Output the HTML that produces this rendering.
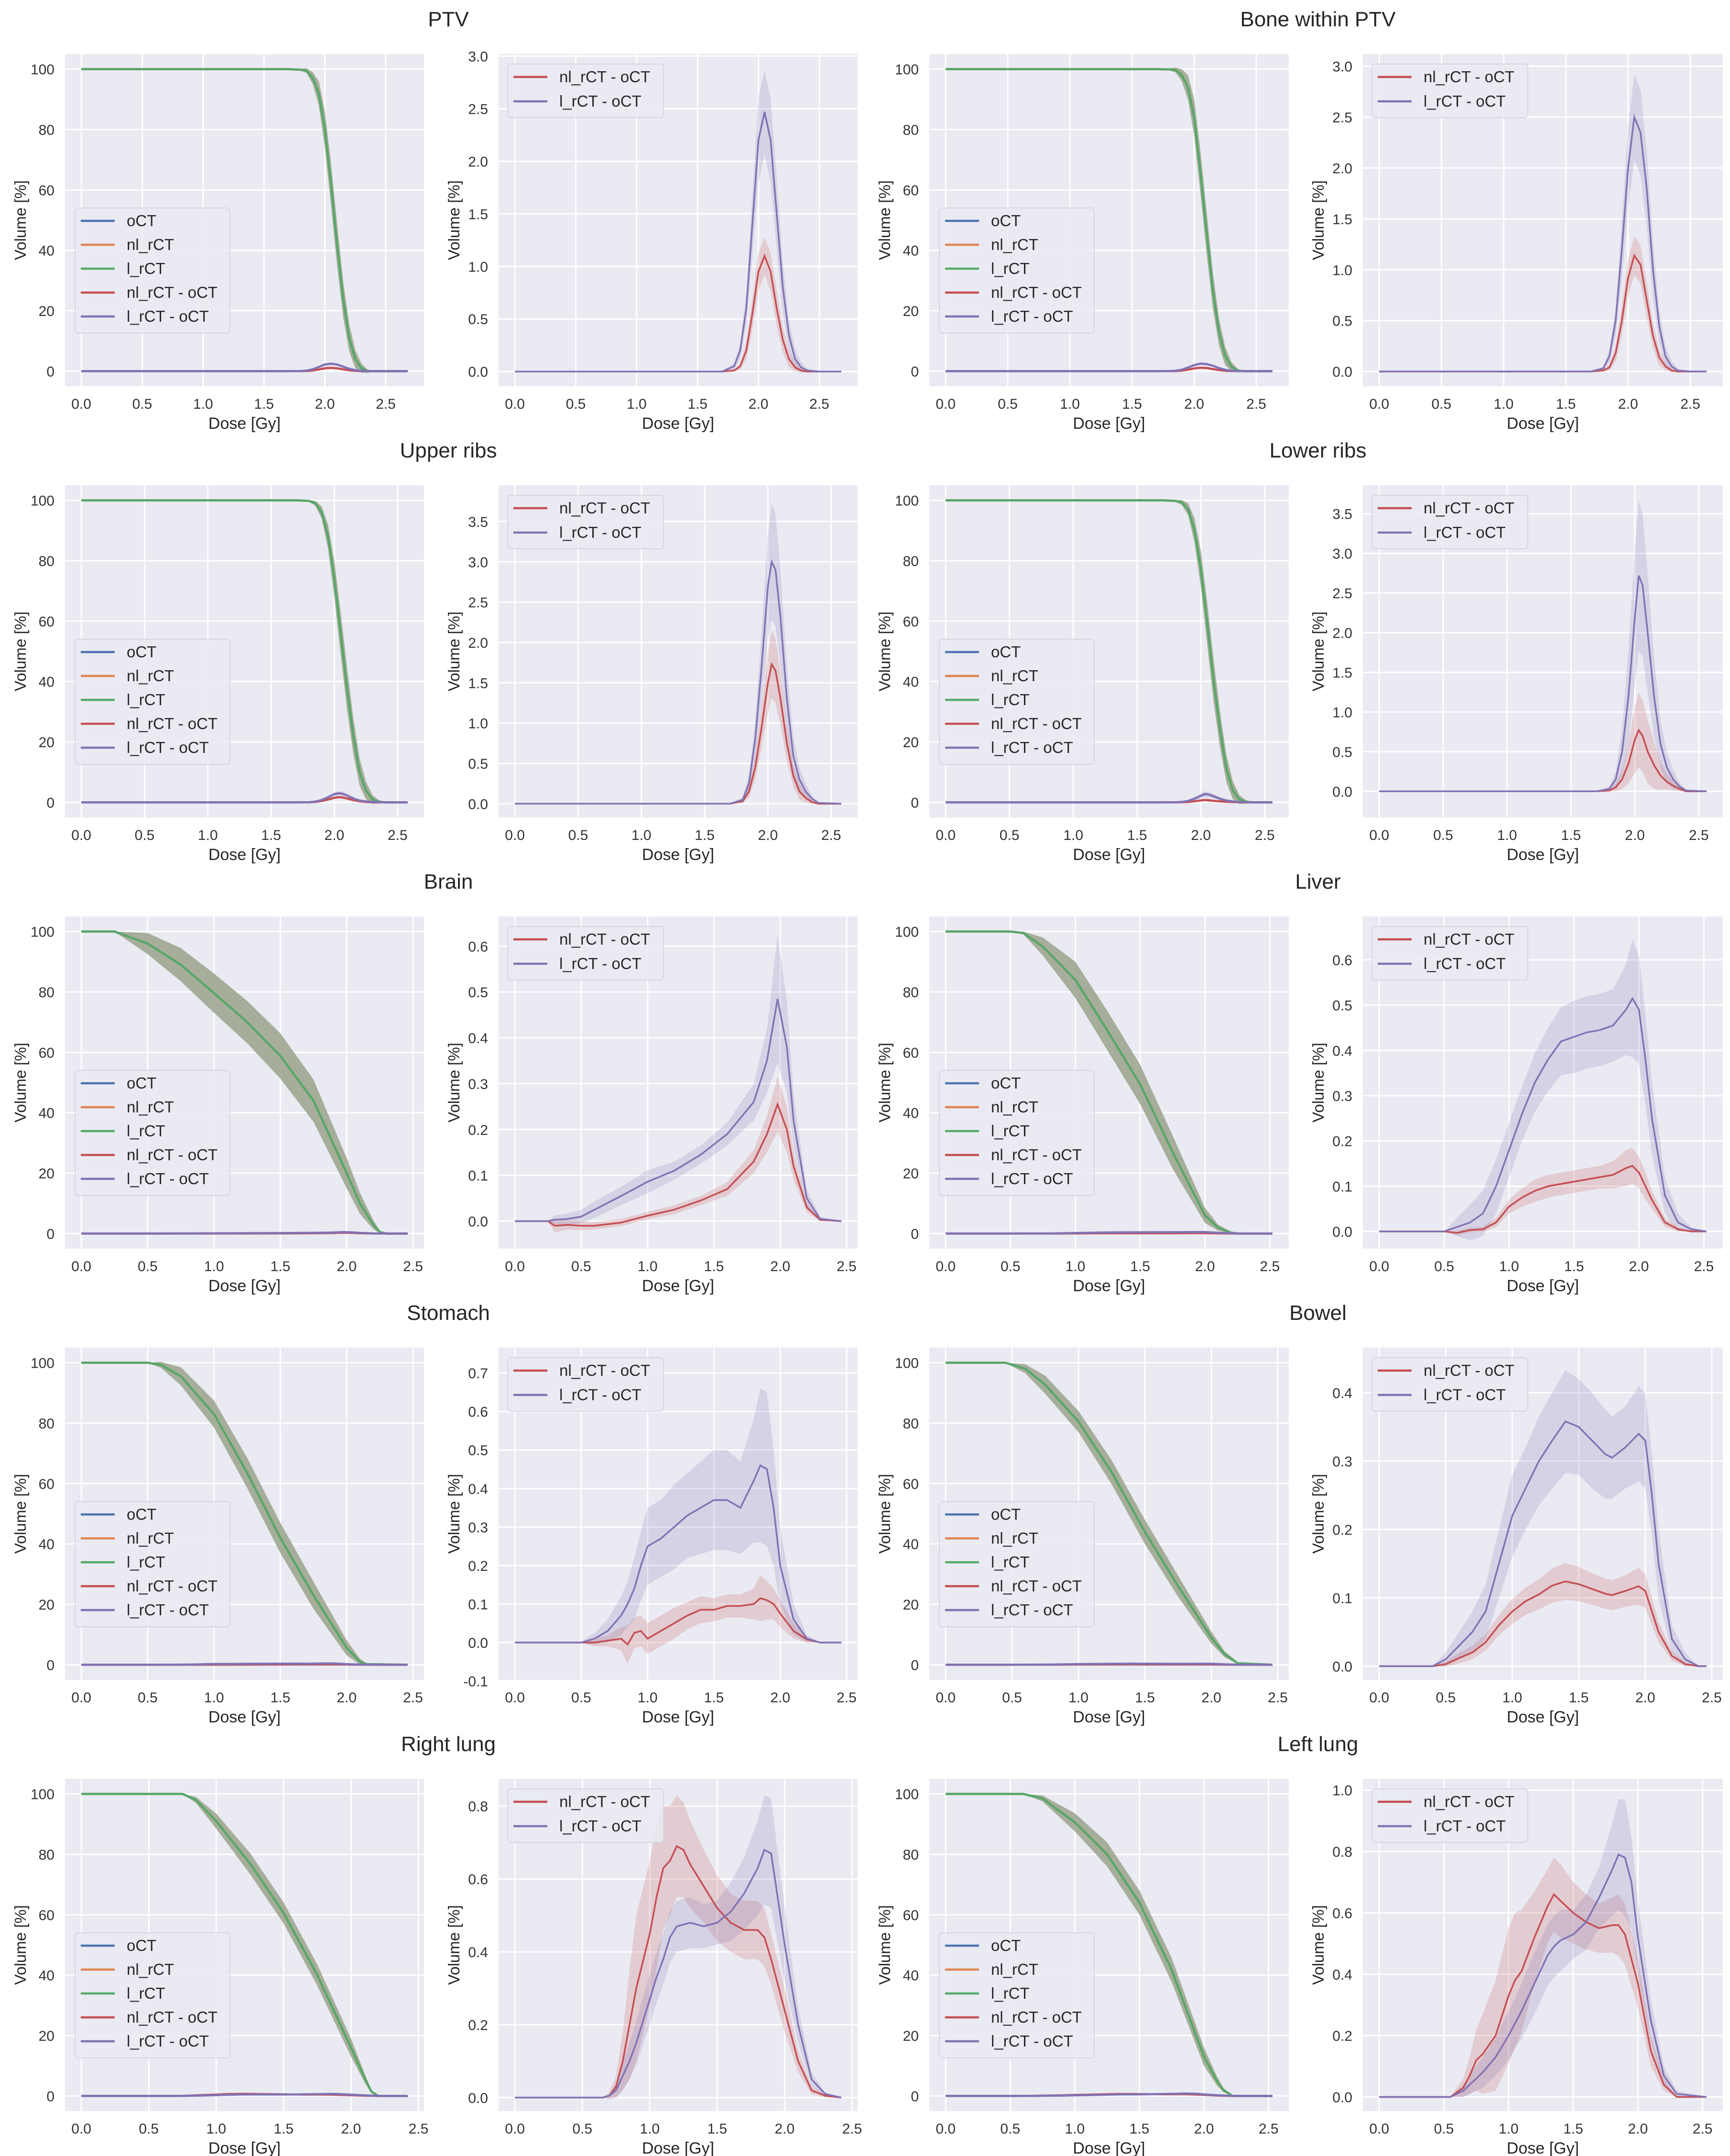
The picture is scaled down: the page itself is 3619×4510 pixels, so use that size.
<!DOCTYPE html>
<html><head><meta charset="utf-8"><style>
html,body{margin:0;padding:0;background:#fff;}
svg{display:block;font-family:"Liberation Sans",Arial,sans-serif;}
</style></head><body>
<svg id="fig" width="3619" height="4510" viewBox="0 0 3619 4510" xmlns="http://www.w3.org/2000/svg"></svg>
<script>
// ===== PTV =====
const ptvDvhDose=[0,1.7,1.8,1.85,1.9,1.95,2.0,2.05,2.1,2.15,2.2,2.25,2.3,2.35,2.4,2.68];
const ptvDvhMean=[100,100,99.8,99.5,97,92,80,62,42,24,11,4,1,0,0,0];
const ptvDvhSpread=[0,0,0.3,0.8,2,4,6,7,7,6,4.5,3,1.5,0.6,0,0];
const ptvDiffDose=[0,1.7,1.8,1.85,1.9,1.95,2.0,2.05,2.1,2.15,2.2,2.25,2.3,2.35,2.4,2.5,2.68];
const ptvL=[0,0,0.05,0.2,0.6,1.4,2.2,2.47,2.2,1.5,0.8,0.35,0.12,0.04,0.01,0,0];
const ptvLSpread=[0,0,0.03,0.07,0.15,0.3,0.4,0.4,0.4,0.35,0.25,0.15,0.1,0.05,0.02,0,0];
const ptvNl=[0,0,0.01,0.05,0.2,0.55,0.95,1.1,0.95,0.6,0.3,0.12,0.04,0.01,0,0,0];
const ptvNlSpread=[0,0,0.01,0.03,0.08,0.15,0.18,0.18,0.18,0.17,0.12,0.08,0.04,0.02,0,0,0];
const ptvTicks=[0,0.5,1.0,1.5,2.0,2.5,3.0];
// ===== Bone within PTV =====
const boneDvhDose=[0,1.7,1.8,1.85,1.9,1.95,2.0,2.05,2.1,2.15,2.2,2.25,2.3,2.35,2.4,2.63];
const boneDvhMean=[100,100,99.9,99.7,98,94,84,66,46,27,13,5,1.5,0.2,0,0];
const boneDvhSpread=[0,0,0.3,0.8,2,4,6,7,7,6,4.5,3,1.5,0.6,0,0];
const boneDiffDose=[0,1.7,1.8,1.85,1.9,1.95,2.0,2.05,2.1,2.15,2.2,2.25,2.3,2.35,2.4,2.5,2.63];
const boneL=[0,0,0.03,0.15,0.5,1.2,2.0,2.5,2.35,1.8,1.0,0.45,0.15,0.05,0.01,0,0];
const boneLSpread=[0,0,0.02,0.06,0.15,0.3,0.4,0.42,0.42,0.38,0.28,0.17,0.1,0.05,0.02,0,0];
const boneNl=[0,0,0.01,0.04,0.18,0.5,0.92,1.14,1.05,0.7,0.35,0.14,0.05,0.01,0,0,0];
const boneNlSpread=[0,0,0.01,0.03,0.08,0.15,0.18,0.19,0.19,0.17,0.12,0.08,0.04,0.02,0,0,0];
const boneTicks=[0,0.5,1.0,1.5,2.0,2.5,3.0];
// ===== Upper ribs =====
const uribDvhDose=[0,1.7,1.8,1.85,1.9,1.95,2.0,2.05,2.1,2.15,2.2,2.25,2.3,2.35,2.4,2.58];
const uribDvhMean=[100,100,99.8,99,96,88,74,56,38,22,10,4,1,0.2,0,0];
const uribDvhSpread=[0,0,0.3,0.8,2,4,6,7,7,6,4.5,3,1.5,0.6,0,0];
const uribDiffDose=[0,1.7,1.8,1.85,1.9,1.95,2.0,2.03,2.06,2.1,2.15,2.2,2.25,2.3,2.35,2.4,2.58];
const uribL=[0,0,0.05,0.25,0.8,1.7,2.7,3.0,2.9,2.3,1.3,0.6,0.3,0.15,0.06,0.01,0];
const uribLSpread=[0,0,0.03,0.1,0.25,0.45,0.65,0.72,0.7,0.6,0.4,0.25,0.15,0.1,0.04,0.01,0];
const uribNl=[0,0,0.03,0.15,0.45,0.95,1.5,1.73,1.65,1.3,0.75,0.35,0.15,0.07,0.02,0,0];
const uribNlSpread=[0,0,0.02,0.07,0.15,0.25,0.38,0.42,0.4,0.33,0.22,0.14,0.1,0.06,0.02,0,0];
const uribTicks=[0,0.5,1.0,1.5,2.0,2.5,3.0,3.5];
// ===== Lower ribs =====
const lribDvhDose=[0,1.7,1.8,1.85,1.9,1.95,2.0,2.05,2.1,2.15,2.2,2.25,2.3,2.35,2.4,2.56];
const lribDvhMean=[100,100,99.8,99.3,97,90,77,59,40,24,11,4,1,0.2,0,0];
const lribDvhSpread=[0,0,0.3,0.8,2,4,6,7,7,6,4.5,3,1.5,0.6,0,0];
const lribDiffDose=[0,1.7,1.8,1.85,1.9,1.95,2.0,2.03,2.06,2.1,2.15,2.2,2.25,2.3,2.35,2.4,2.56];
const lribL=[0,0,0.03,0.15,0.5,1.2,2.2,2.72,2.6,2.0,1.2,0.6,0.3,0.15,0.06,0.01,0];
const lribLSpread=[0,0,0.03,0.1,0.3,0.6,0.85,0.95,0.9,0.75,0.5,0.3,0.2,0.12,0.05,0.01,0];
const lribNl=[0,0,0.01,0.05,0.15,0.35,0.65,0.77,0.7,0.5,0.33,0.2,0.12,0.07,0.03,0,0];
const lribNlSpread=[0,0,0.01,0.05,0.12,0.25,0.42,0.47,0.45,0.4,0.3,0.18,0.1,0.06,0.03,0,0];
const lribTicks=[0,0.5,1.0,1.5,2.0,2.5,3.0,3.5];
// ===== Brain =====
const brainDvhDose=[0,0.25,0.5,0.75,1.0,1.25,1.5,1.75,2.0,2.1,2.2,2.25,2.3,2.46];
const brainDvhMean=[100,100,96,89,79.6,70,58.8,44,20,10,3,0.5,0,0];
const brainDvhSpread=[0,0,3.5,5.5,6.5,7,7.5,7,5,3.5,1.5,0.5,0,0];
const brainDiffDose=[0,0.25,0.3,0.4,0.5,0.6,0.8,1.0,1.2,1.4,1.6,1.8,1.9,1.98,2.05,2.1,2.2,2.3,2.46];
const brainL=[0,0,0.003,0.005,0.01,0.025,0.055,0.086,0.11,0.145,0.19,0.26,0.35,0.485,0.38,0.22,0.05,0.005,0];
const brainLSpread=[0,0,0.01,0.012,0.015,0.018,0.02,0.025,0.02,0.02,0.025,0.04,0.07,0.14,0.1,0.06,0.02,0.005,0];
const brainNl=[0,0,-0.01,-0.008,-0.01,-0.01,-0.003,0.012,0.025,0.045,0.07,0.13,0.19,0.255,0.2,0.12,0.03,0.003,0];
const brainNlSpread=[0,0,0.015,0.01,0.01,0.008,0.008,0.008,0.01,0.01,0.015,0.025,0.04,0.06,0.05,0.03,0.01,0.003,0];
const brainTicks=[0,0.1,0.2,0.3,0.4,0.5,0.6];
// ===== Liver =====
const liverDvhDose=[0,0.5,0.6,0.75,1.0,1.25,1.5,1.75,2.0,2.1,2.2,2.25,2.52];
const liverDvhMean=[100,100,99.5,95,84,67,49.4,27,6,2,0.3,0,0];
const liverDvhSpread=[0,0,0.5,3,6,6.5,6.5,5.5,2.5,1,0.3,0,0];
const liverDiffDose=[0,0.5,0.6,0.7,0.8,0.9,1.0,1.1,1.2,1.3,1.4,1.5,1.6,1.7,1.8,1.9,1.95,2.0,2.05,2.1,2.2,2.3,2.4,2.52];
const liverL=[0,0,0.01,0.02,0.04,0.1,0.18,0.26,0.33,0.38,0.42,0.43,0.44,0.445,0.455,0.49,0.515,0.49,0.38,0.25,0.08,0.02,0.005,0];
const liverLSpread=[0,0,0.02,0.04,0.05,0.06,0.06,0.06,0.065,0.07,0.075,0.08,0.08,0.08,0.08,0.1,0.13,0.12,0.1,0.08,0.04,0.02,0.005,0];
const liverNl=[0,0,-0.003,0.003,0.005,0.02,0.055,0.075,0.09,0.1,0.105,0.11,0.115,0.12,0.125,0.14,0.145,0.13,0.1,0.07,0.02,0.005,0,0];
const liverNlSpread=[0,0,0.005,0.005,0.006,0.01,0.015,0.02,0.025,0.025,0.025,0.025,0.025,0.025,0.03,0.04,0.04,0.035,0.03,0.02,0.01,0.005,0,0];
const liverTicks=[0,0.1,0.2,0.3,0.4,0.5,0.6];
// ===== Stomach =====
const stomDvhDose=[0,0.5,0.6,0.75,1.0,1.25,1.5,1.75,2.0,2.1,2.15,2.46];
const stomDvhMean=[100,100,99.3,95.5,83,63.5,42,23,5.6,1,0.2,0];
const stomDvhSpread=[0,0,1,3,4.5,5,5,4.5,2.5,1,0.3,0];
const stomDiffDose=[0,0.5,0.55,0.6,0.7,0.8,0.85,0.9,0.95,1.0,1.1,1.2,1.3,1.4,1.5,1.6,1.7,1.8,1.85,1.9,1.95,2.0,2.1,2.2,2.3,2.46];
const stomL=[0,0,0.005,0.01,0.03,0.07,0.1,0.14,0.2,0.25,0.27,0.3,0.33,0.35,0.37,0.37,0.35,0.42,0.46,0.45,0.35,0.2,0.06,0.01,0,0];
const stomLSpread=[0,0,0.01,0.015,0.03,0.05,0.06,0.08,0.09,0.1,0.1,0.11,0.11,0.12,0.13,0.13,0.12,0.16,0.2,0.2,0.15,0.1,0.04,0.01,0,0];
const stomNl=[0,0,0,0,0.005,0.01,-0.005,0.025,0.03,0.01,0.03,0.05,0.07,0.085,0.085,0.095,0.095,0.1,0.115,0.11,0.1,0.075,0.03,0.008,0,0];
const stomNlSpread=[0,0,0.005,0.01,0.015,0.03,0.05,0.04,0.04,0.04,0.04,0.04,0.035,0.035,0.03,0.03,0.03,0.04,0.06,0.05,0.04,0.035,0.02,0.008,0,0];
const stomTicks=[-0.1,0,0.1,0.2,0.3,0.4,0.5,0.6,0.7];
// ===== Bowel =====
const bowelDvhDose=[0,0.45,0.6,0.75,1.0,1.25,1.5,1.75,2.0,2.1,2.2,2.46];
const bowelDvhMean=[100,100,98,92.7,80.5,63.7,44,26,9,3.5,0.5,0];
const bowelDvhSpread=[0,0,1.5,3,3.5,4,4,3.5,2,1,0.3,0];
const bowelDiffDose=[0,0.4,0.5,0.6,0.7,0.8,0.9,1.0,1.1,1.2,1.3,1.4,1.5,1.6,1.7,1.75,1.85,1.95,2.0,2.05,2.1,2.2,2.3,2.4,2.46];
const bowelL=[0,0,0.01,0.03,0.05,0.08,0.15,0.22,0.26,0.3,0.33,0.358,0.35,0.33,0.31,0.305,0.32,0.34,0.33,0.25,0.15,0.04,0.01,0,0];
const bowelLSpread=[0,0,0.01,0.02,0.03,0.04,0.05,0.06,0.06,0.065,0.07,0.075,0.07,0.07,0.065,0.06,0.06,0.07,0.07,0.06,0.05,0.02,0.01,0,0];
const bowelNl=[0,0,0.003,0.012,0.02,0.035,0.06,0.08,0.095,0.105,0.118,0.124,0.12,0.113,0.106,0.104,0.11,0.117,0.11,0.08,0.05,0.015,0.003,0,0];
const bowelNlSpread=[0,0,0.004,0.008,0.01,0.012,0.015,0.018,0.02,0.022,0.025,0.027,0.025,0.023,0.022,0.022,0.023,0.027,0.025,0.02,0.015,0.007,0.003,0,0];
const bowelTicks=[0,0.1,0.2,0.3,0.4];
// ===== Right lung =====
const rlungDvhDose=[0,0.75,0.85,1.0,1.25,1.5,1.75,2.0,2.1,2.15,2.2,2.42];
const rlungDvhMean=[100,100,98,91,77,60.6,40,16,6,1.5,0,0];
const rlungDvhSpread=[0,0,1,2.5,3.5,3.5,3.5,3,1.5,0.5,0,0];
const rlungDiffDose=[0,0.65,0.7,0.75,0.8,0.85,0.9,1.0,1.05,1.1,1.15,1.2,1.25,1.3,1.4,1.5,1.6,1.7,1.8,1.85,1.9,2.0,2.1,2.2,2.3,2.42];
const rlungNl=[0,0,0.005,0.03,0.1,0.2,0.3,0.45,0.55,0.63,0.65,0.69,0.68,0.64,0.58,0.52,0.48,0.46,0.46,0.44,0.38,0.24,0.1,0.02,0.005,0];
const rlungNlSpread=[0,0,0.01,0.03,0.08,0.15,0.2,0.2,0.2,0.17,0.15,0.14,0.13,0.12,0.1,0.09,0.08,0.08,0.08,0.08,0.07,0.06,0.03,0.01,0.005,0];
const rlungL=[0,0,0.005,0.02,0.06,0.1,0.15,0.27,0.33,0.38,0.44,0.47,0.475,0.48,0.47,0.48,0.51,0.56,0.63,0.68,0.67,0.42,0.2,0.05,0.01,0];
const rlungLSpread=[0,0,0.005,0.02,0.04,0.05,0.06,0.07,0.07,0.07,0.07,0.07,0.07,0.07,0.06,0.06,0.08,0.1,0.13,0.15,0.15,0.1,0.05,0.02,0.005,0];
const rlungTicks=[0,0.2,0.4,0.6,0.8];
// ===== Left lung =====
const llungDvhDose=[0,0.6,0.75,1.0,1.25,1.5,1.75,2.0,2.1,2.15,2.22,2.53];
const llungDvhMean=[100,100,98.5,90.6,80,64,41.7,13,5,2,0,0];
const llungDvhSpread=[0,0,1,3,4,4,4,3,1.5,0.7,0,0];
const llungDiffDose=[0,0.55,0.65,0.7,0.75,0.8,0.9,1.0,1.05,1.1,1.2,1.3,1.35,1.4,1.5,1.6,1.7,1.8,1.85,1.9,1.95,2.0,2.1,2.2,2.3,2.53];
const llungNl=[0,0,0.03,0.07,0.12,0.14,0.2,0.33,0.38,0.41,0.52,0.62,0.66,0.64,0.6,0.57,0.55,0.56,0.56,0.53,0.45,0.37,0.15,0.04,0,0];
const llungNlSpread=[0,0,0.03,0.06,0.1,0.13,0.18,0.22,0.22,0.2,0.15,0.12,0.12,0.12,0.1,0.09,0.08,0.09,0.1,0.1,0.09,0.08,0.05,0.02,0,0];
const llungL=[0,0,0.02,0.04,0.06,0.08,0.13,0.2,0.24,0.28,0.37,0.46,0.49,0.51,0.53,0.57,0.65,0.74,0.79,0.78,0.7,0.52,0.25,0.07,0.01,0];
const llungLSpread=[0,0,0.02,0.03,0.04,0.05,0.06,0.08,0.08,0.09,0.1,0.1,0.1,0.1,0.08,0.09,0.1,0.15,0.18,0.19,0.15,0.12,0.07,0.03,0.01,0];
const llungTicks=[0,0.2,0.4,0.6,0.8,1.0];

const xTicks=[0,0.5,1.0,1.5,2.0,2.5];
const dvhTicks=[0,20,40,60,80,100];
const dvhLegend=["oCT","nl_rCT","l_rCT","nl_rCT - oCT","l_rCT - oCT"];
const diffLegend=["nl_rCT - oCT","l_rCT - oCT"];

const structures=[
 {key:"ptv",title:"PTV",row:0,side:0,dd:ptvDvhDose,dm:ptvDvhMean,ds:ptvDvhSpread,fd:ptvDiffDose,l:ptvL,ls:ptvLSpread,nl:ptvNl,nls:ptvNlSpread,ticks:ptvTicks,ylim:[-0.14,3.02]},
 {key:"bone-within-ptv",title:"Bone within PTV",row:0,side:1,dd:boneDvhDose,dm:boneDvhMean,ds:boneDvhSpread,fd:boneDiffDose,l:boneL,ls:boneLSpread,nl:boneNl,nls:boneNlSpread,ticks:boneTicks,ylim:[-0.145,3.12]},
 {key:"upper-ribs",title:"Upper ribs",row:1,side:0,dd:uribDvhDose,dm:uribDvhMean,ds:uribDvhSpread,fd:uribDiffDose,l:uribL,ls:uribLSpread,nl:uribNl,nls:uribNlSpread,ticks:uribTicks,ylim:[-0.17,3.95]},
 {key:"lower-ribs",title:"Lower ribs",row:1,side:1,dd:lribDvhDose,dm:lribDvhMean,ds:lribDvhSpread,fd:lribDiffDose,l:lribL,ls:lribLSpread,nl:lribNl,nls:lribNlSpread,ticks:lribTicks,ylim:[-0.33,3.86]},
 {key:"brain",title:"Brain",row:2,side:0,dd:brainDvhDose,dm:brainDvhMean,ds:brainDvhSpread,fd:brainDiffDose,l:brainL,ls:brainLSpread,nl:brainNl,nls:brainNlSpread,ticks:brainTicks,ylim:[-0.06,0.665]},
 {key:"liver",title:"Liver",row:2,side:1,dd:liverDvhDose,dm:liverDvhMean,ds:liverDvhSpread,fd:liverDiffDose,l:liverL,ls:liverLSpread,nl:liverNl,nls:liverNlSpread,ticks:liverTicks,ylim:[-0.038,0.696]},
 {key:"stomach",title:"Stomach",row:3,side:0,dd:stomDvhDose,dm:stomDvhMean,ds:stomDvhSpread,fd:stomDiffDose,l:stomL,ls:stomLSpread,nl:stomNl,nls:stomNlSpread,ticks:stomTicks,ylim:[-0.097,0.766]},
 {key:"bowel",title:"Bowel",row:3,side:1,dd:bowelDvhDose,dm:bowelDvhMean,ds:bowelDvhSpread,fd:bowelDiffDose,l:bowelL,ls:bowelLSpread,nl:bowelNl,nls:bowelNlSpread,ticks:bowelTicks,ylim:[-0.02,0.466]},
 {key:"right-lung",title:"Right lung",row:4,side:0,dd:rlungDvhDose,dm:rlungDvhMean,ds:rlungDvhSpread,fd:rlungDiffDose,l:rlungL,ls:rlungLSpread,nl:rlungNl,nls:rlungNlSpread,ticks:rlungTicks,ylim:[-0.037,0.875]},
 {key:"left-lung",title:"Left lung",row:4,side:1,dd:llungDvhDose,dm:llungDvhMean,ds:llungDvhSpread,fd:llungDiffDose,l:llungL,ls:llungLSpread,nl:llungNl,nls:llungNlSpread,ticks:llungTicks,ylim:[-0.046,1.037]}
];

const NS="http://www.w3.org/2000/svg";
const svg=document.getElementById("fig");
const COL={blue:"#4c72b0",orange:"#dd8452",green:"#55a868",red:"#c44e52",purple:"#8172b3"};
const COLS=[[136,887],[1043,1794],[1944,2696],[2851,3604]];
function mk(tag,attrs,parent){const e=document.createElementNS(NS,tag);for(const k in attrs)e.setAttribute(k,attrs[k]);(parent||svg).appendChild(e);return e;}
function txt(s,attrs,parent){const e=mk("text",attrs,parent);e.textContent=s;return e;}
let clipId=0;

function axes(g,x0,x1,top,bot,xlim,ylim,yticks,yfmt,name){
  const sx=v=>x0+(v-xlim[0])/(xlim[1]-xlim[0])*(x1-x0);
  const sy=v=>bot-(v-ylim[0])/(ylim[1]-ylim[0])*(bot-top);
  const bg=mk("rect",{x:x0,y:top,width:x1-x0,height:bot-top,fill:"#eaeaf2"},g);
  
  
  xTicks.forEach(t=>{
    const ln=mk("line",{x1:sx(t),x2:sx(t),y1:top,y2:bot,stroke:"#fff","stroke-width":3},g);
    
    
    const tl=txt(t.toFixed(1),{x:sx(t),y:bot+47,"text-anchor":"middle","font-size":30,fill:"#333"},g);
    
    
  });
  yticks.forEach(t=>{
    const ln=mk("line",{x1:x0,x2:x1,y1:sy(t),y2:sy(t),stroke:"#fff","stroke-width":3},g);
    
    
    const tl=txt(yfmt(t),{x:x0-22,y:sy(t)+11,"text-anchor":"end","font-size":30,fill:"#333"},g);
    
    
  });
  const xl=txt("Dose [Gy]",{x:(x0+x1)/2,y:bot+89,"text-anchor":"middle","font-size":34,fill:"#262626"},g);
  
  
  const cx=x0-(yfmt(yticks[yticks.length-1]).length>3?100:93), cy=(top+bot)/2;
  const yl=txt("Volume [%]",{x:cx,y:cy,"text-anchor":"middle","font-size":33,fill:"#262626",transform:`rotate(-90 ${cx} ${cy})`,dy:11},g);
  
  
  const id="clip"+(clipId++);
  const cp=mk("clipPath",{id:id},g);mk("rect",{x:x0,y:top,width:x1-x0,height:bot-top},cp);
  const pg=mk("g",{"clip-path":`url(#${id})`},g);
  return {sx,sy,pg};
}
function linePath(xs,ys,sx,sy){return xs.map((x,i)=>(i?"L":"M")+sx(x).toFixed(1)+","+sy(ys[i]).toFixed(1)).join("");}
function bandPath(xs,m,s,sx,sy){
  let d=xs.map((x,i)=>(i?"L":"M")+sx(x).toFixed(1)+","+sy(m[i]+s[i]).toFixed(1)).join("");
  for(let i=xs.length-1;i>=0;i--)d+="L"+sx(xs[i]).toFixed(1)+","+sy(m[i]-s[i]).toFixed(1);
  return d+"Z";
}
function legend(g,x,y,w,h,items,colors,dy0,step,name){
  const box=mk("rect",{x:x,y:y,width:w,height:h,rx:7,fill:"#eaeaf2","fill-opacity":0.85,stroke:"#d6d6df","stroke-width":2},g);
  
  
  items.forEach((s,i)=>{
    const yy=y+dy0+i*step;
    const ln=mk("line",{x1:x+12,x2:x+83,y1:yy,y2:yy,stroke:colors[i],"stroke-width":4.5},g);
    
    
    const t=txt(s,{x:x+108,y:yy+11,"font-size":33,fill:"#262626"},g);
    
    
  });
}

structures.forEach(st=>{
  const top=113+902*st.row, bot=808+902*st.row;
  const cL=COLS[st.side*2], cR=COLS[st.side*2+1];
  const m=st.dd[st.dd.length-1];
  const xlim=[-0.05*m,1.05*m];
  const grp=mk("g",{});
  
  
  const tt=txt(st.title,{x:st.side?2757:938,y:55+902*st.row,"text-anchor":"middle","font-size":44,fill:"#262626"},grp);
  
  
  const gL=mk("g",{},grp);
  
  
  const A=axes(gL,cL[0],cL[1],top,bot,xlim,[-5,105],dvhTicks,v=>String(v),st.key+'-dvh');
  const band=mk("path",{d:bandPath(st.dd,st.dm,st.ds,A.sx,A.sy),fill:"#a2ab96","fill-opacity":0.95},A.pg);
  
  
  [["blue","oct-line"],["orange","nl-rct-line"],["green","l-rct-line"]].forEach(([c,n])=>{
    const p=mk("path",{d:linePath(st.dd,st.dm,A.sx,A.sy),fill:"none",stroke:COL[c],"stroke-width":4.5},A.pg);
    
    
  });
  const p1=mk("path",{d:bandPath(st.fd,st.nl,st.nls,A.sx,A.sy),fill:COL.red,"fill-opacity":0.2},A.pg);
  
  
  const p2=mk("path",{d:bandPath(st.fd,st.l,st.ls,A.sx,A.sy),fill:COL.purple,"fill-opacity":0.2},A.pg);
  
  
  const p3=mk("path",{d:linePath(st.fd,st.nl,A.sx,A.sy),fill:"none",stroke:COL.red,"stroke-width":4.5},A.pg);
  
  
  const p4=mk("path",{d:linePath(st.fd,st.l,A.sx,A.sy),fill:"none",stroke:COL.purple,"stroke-width":4.5},A.pg);
  
  
  legend(gL,cL[0]+21,top+322,324,262,dvhLegend,[COL.blue,COL.orange,COL.green,COL.red,COL.purple],27,50,'dvh-legend');
  const gR=mk("g",{},grp);
  
  
  const B=axes(gR,cR[0],cR[1],top,bot,xlim,st.ylim,st.ticks,v=>v.toFixed(1),st.key+'-diff');
  const b1=mk("path",{d:bandPath(st.fd,st.nl,st.nls,B.sx,B.sy),fill:COL.red,"fill-opacity":0.2},B.pg);
  
  
  const b2=mk("path",{d:bandPath(st.fd,st.l,st.ls,B.sx,B.sy),fill:COL.purple,"fill-opacity":0.2},B.pg);
  
  
  const l1=mk("path",{d:linePath(st.fd,st.nl,B.sx,B.sy),fill:"none",stroke:COL.red,"stroke-width":3.5},B.pg);
  
  
  const l2=mk("path",{d:linePath(st.fd,st.l,B.sx,B.sy),fill:"none",stroke:COL.purple,"stroke-width":3.5},B.pg);
  
  
  legend(gR,cR[0]+19,top+21,326,112,diffLegend,[COL.red,COL.purple],27,51,'diff-legend');
});
</script>
</body></html>
